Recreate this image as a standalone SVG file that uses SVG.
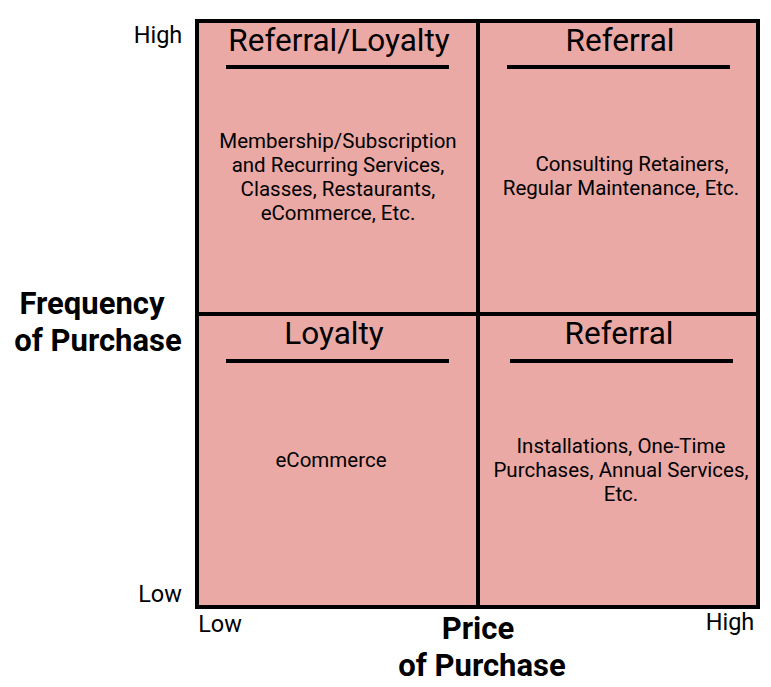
<svg xmlns="http://www.w3.org/2000/svg" width="771" height="687" viewBox="0 0 771 687">
<style>
text{font-family:Roboto,"Liberation Sans",sans-serif;fill:#000;text-anchor:middle}
.t{font-size:31.5px}
.b{font-size:20.5px}
.ax{font-size:23.5px}
.lab{font-size:31px;font-weight:bold}
.ul{stroke:#000;stroke-width:4}
</style>
<rect width="771" height="687" fill="#fff"/>
<g id="grid">
<rect x="197" y="21" width="561" height="586" fill="#EBA9A5" stroke="#000" stroke-width="4"/>
<line x1="478" y1="21" x2="478" y2="607" stroke="#000" stroke-width="4"/>
<line x1="197" y1="314" x2="758" y2="314" stroke="#000" stroke-width="4"/>
</g>
<g id="q1">
<text class="t" x="339" y="51">Referral/Loyalty</text>
<line class="ul" x1="226" y1="67" x2="449" y2="67"/>
<text class="b" x="338" y="148">Membership/Subscription</text>
<text class="b" x="338" y="172">and Recurring Services,</text>
<text class="b" x="338" y="196">Classes, Restaurants,</text>
<text class="b" x="338" y="220">eCommerce, Etc.</text>
</g>
<g id="q2">
<text class="t" x="620" y="51">Referral</text>
<line class="ul" x1="507" y1="67" x2="730" y2="67"/>
<text class="b" x="632" y="171">Consulting Retainers,</text>
<text class="b" x="621" y="195">Regular Maintenance, Etc.</text>
</g>
<g id="q3">
<text class="t" x="334" y="344">Loyalty</text>
<line class="ul" x1="226" y1="361" x2="449" y2="361"/>
<text class="b" x="331" y="467">eCommerce</text>
</g>
<g id="q4">
<text class="t" x="619" y="344">Referral</text>
<line class="ul" x1="510" y1="361" x2="733" y2="361"/>
<text class="b" x="621" y="453">Installations, One-Time</text>
<text class="b" x="621" y="477">Purchases, Annual Services,</text>
<text class="b" x="621" y="501">Etc.</text>
</g>
<g id="axes">
<text class="ax" x="158" y="43">High</text>
<text class="ax" x="160" y="602">Low</text>
<text class="ax" x="220" y="632">Low</text>
<text class="ax" x="730" y="630">High</text>
<text class="lab" x="92" y="314">Frequency</text>
<text class="lab" x="98" y="351">of Purchase</text>
<text class="lab" x="478" y="639">Price</text>
<text class="lab" x="482" y="676">of Purchase</text>
</g>
</svg>
